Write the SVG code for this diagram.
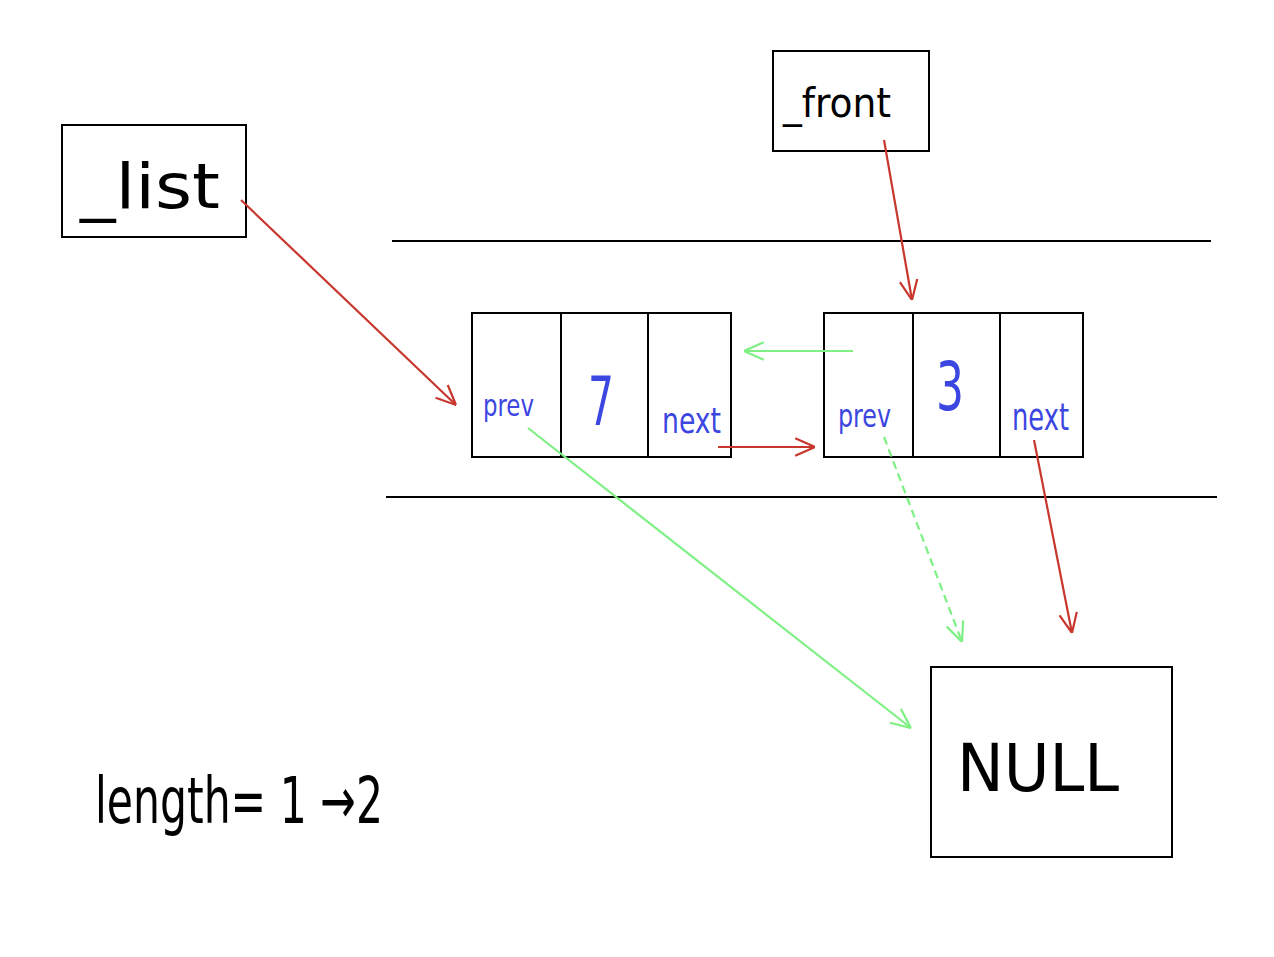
<svg xmlns="http://www.w3.org/2000/svg" width="1274" height="957" viewBox="0 0 1274 957">
<style>
.box{fill:none;stroke:#000;stroke-width:2}
.rule{stroke:#000;stroke-width:2}
.red{stroke:#c8372d;stroke-width:2.2;fill:none}
.green{stroke:#7ef084;stroke-width:2.2;fill:none}
.dash{stroke-dasharray:8 5}
.hand{font-family:"DejaVu Sans Condensed","DejaVu Sans","Liberation Sans",sans-serif;font-weight:200}
.blue{fill:#3c46e0}
.blk{fill:#000}
</style>
<defs>
<marker id="ar" viewBox="0 0 10 10" refX="10" refY="5" markerWidth="10" markerHeight="10" orient="auto" markerUnits="strokeWidth"><path d="M1,1 L10,5 L1,9" fill="none" stroke="#c8372d" stroke-width="1"/></marker>
<marker id="ag" viewBox="0 0 10 10" refX="10" refY="5" markerWidth="10" markerHeight="10" orient="auto" markerUnits="strokeWidth"><path d="M1,1 L10,5 L1,9" fill="none" stroke="#7ef084" stroke-width="1"/></marker>
</defs>
<rect width="1274" height="957" fill="#fff"/>
<g id="rules">
<line class="rule" x1="392" y1="241" x2="1211" y2="241"/>
<line class="rule" x1="386" y1="497" x2="1217" y2="497"/>
</g>
<g id="list">
<rect class="box" x="62" y="125" width="184" height="112"/>
<text class="hand blk" x="80" y="208" font-size="62" textLength="140" lengthAdjust="spacingAndGlyphs">_list</text>
</g>
<g id="front">
<rect class="box" x="773" y="51" width="156" height="100"/>
<text class="hand blk" x="783" y="117" font-size="40" textLength="108" lengthAdjust="spacingAndGlyphs">_front</text>
</g>
<g id="node7">
<rect class="box" x="472" y="313" width="259" height="144"/>
<line class="rule" x1="561" y1="313" x2="561" y2="457"/>
<line class="rule" x1="648" y1="313" x2="648" y2="457"/>
<text class="hand blue" x="483" y="416" font-size="30" textLength="51" lengthAdjust="spacingAndGlyphs">prev</text>
<text class="hand blue" x="588" y="425" font-size="68" textLength="26" lengthAdjust="spacingAndGlyphs">7</text>
<text class="hand blue" x="662" y="433" font-size="36" textLength="59" lengthAdjust="spacingAndGlyphs">next</text>
</g>
<g id="node3">
<rect class="box" x="824" y="313" width="259" height="144"/>
<line class="rule" x1="913" y1="313" x2="913" y2="457"/>
<line class="rule" x1="1000" y1="313" x2="1000" y2="457"/>
<text class="hand blue" x="838" y="427" font-size="32" textLength="53" lengthAdjust="spacingAndGlyphs">prev</text>
<text class="hand blue" x="936" y="410" font-size="68" textLength="28" lengthAdjust="spacingAndGlyphs">3</text>
<text class="hand blue" x="1012" y="430" font-size="38" textLength="57" lengthAdjust="spacingAndGlyphs">next</text>
</g>
<g id="null">
<rect class="box" x="931" y="667" width="241" height="190"/>
<text class="hand blk" x="957" y="791" font-size="66" textLength="162" lengthAdjust="spacingAndGlyphs">NULL</text>
</g>
<g id="length">
<text class="hand blk" x="95" y="823" font-size="64" textLength="288" lengthAdjust="spacingAndGlyphs">length= 1 →2</text>
</g>
<g id="connectors">
<line class="red" x1="241" y1="200" x2="456" y2="405" marker-end="url(#ar)"/>
<line class="red" x1="884" y1="140" x2="912" y2="300" marker-end="url(#ar)"/>
<line class="green" x1="853" y1="351" x2="744" y2="351" marker-end="url(#ag)"/>
<line class="red" x1="718" y1="447" x2="815" y2="447" marker-end="url(#ar)"/>
<line class="green" x1="528" y1="428" x2="911" y2="728" marker-end="url(#ag)"/>
<line class="green dash" x1="884" y1="437" x2="962" y2="642" marker-end="url(#ag)"/>
<line class="red" x1="1034" y1="440" x2="1072" y2="633" marker-end="url(#ar)"/>
</g>
</svg>
